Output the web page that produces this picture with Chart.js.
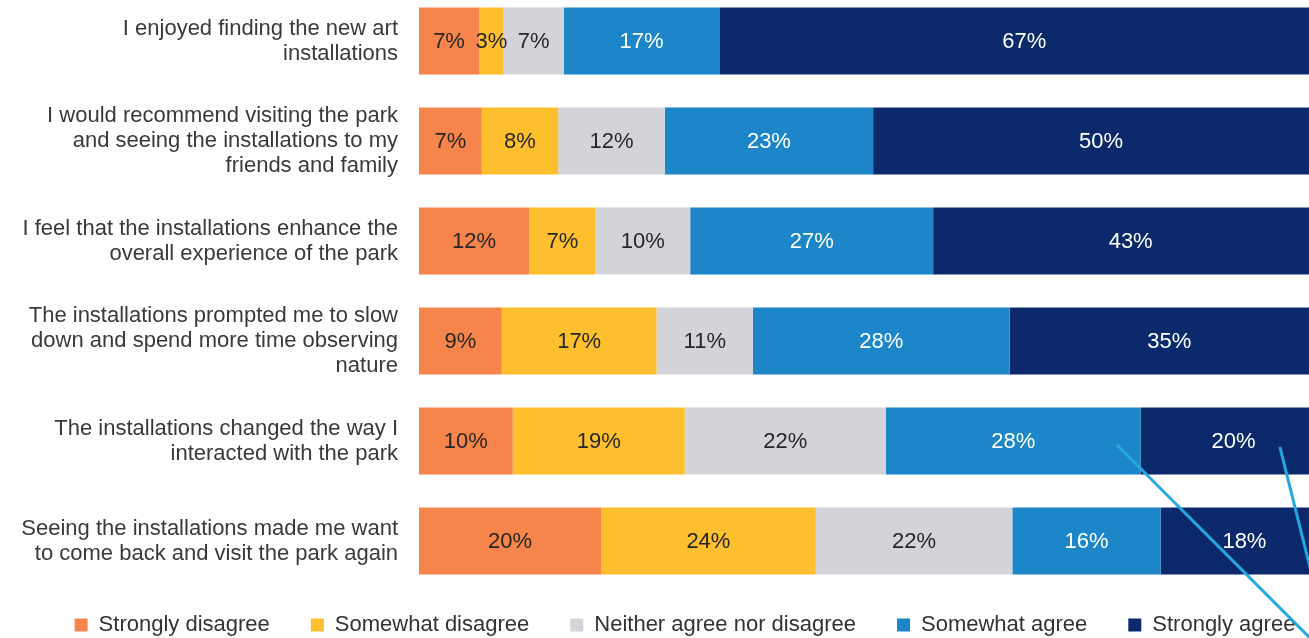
<!DOCTYPE html>
<html>
<head>
<meta charset="utf-8">
<script src="https://cdn.jsdelivr.net/npm/chart.js@4.4.1/dist/chart.umd.min.js"></script>
<style>
  html, body { margin: 0; padding: 0; background: #fff; overflow: hidden; }
  #wrap { position: absolute; left: 0; top: 0; width: 1370px; height: 646px; }
</style>
</head>
<body>
<div id="wrap"><canvas id="chart_parkSurvey"></canvas></div>
<script>
// statements (y categories), one array of lines per bar
var statements = [
    ['I enjoyed finding the new art', 'installations'],
    ['I would recommend visiting the park', 'and seeing the installations to my', 'friends and family'],
    ['I feel that the installations enhance the', 'overall experience of the park'],
    ['The installations prompted me to slow', 'down and spend more time observing', 'nature'],
    ['The installations changed the way I', 'interacted with the park'],
    ['Seeing the installations made me want', 'to come back and visit the park again']
];

var seriesNames = ['Strongly disagree', 'Somewhat disagree', 'Neither agree nor disagree', 'Somewhat agree', 'Strongly agree'];
var seriesColors = ['#F5854A', '#FDBF2D', '#D3D4D9', '#1C86C8', '#0C2A6B'];
var labelColors = ['#262626', '#262626', '#262626', '#ffffff', '#ffffff'];

// percent of respondents
var stronglyDisagree = [6.6, 6.9, 12.1, 9.1, 10.3, 20.0];
var somewhatDisagree = [2.7, 8.4, 7.3, 17.0, 18.9, 23.6];
var neitherAgree     = [6.6, 11.7, 10.4, 10.6, 22.1, 21.6];
var somewhatAgree    = [17.1, 22.9, 26.7, 28.2, 28.0, 16.3];
var stronglyAgree    = [67.0, 50.1, 43.4, 35.1, 20.4, 18.4];

var seriesValues = [stronglyDisagree, somewhatDisagree, neitherAgree, somewhatAgree, stronglyAgree];

Chart.defaults.font.family = '"Liberation Sans", Arial, sans-serif';

var segmentLabels = {
    id: 'segmentLabels',
    afterDatasetsDraw: function(chart) {
        var ctx = chart.ctx;
        ctx.save();
        ctx.font = '22px "Liberation Sans", Arial, sans-serif';
        ctx.textAlign = 'center';
        ctx.textBaseline = 'middle';
        chart.data.datasets.forEach(function(ds, i) {
            chart.getDatasetMeta(i).data.forEach(function(bar, j) {
                ctx.fillStyle = labelColors[i];
                ctx.fillText(Math.round(ds.data[j]) + '%', (bar.x + bar.base) / 2, bar.y + 1);
            });
        });
        ctx.restore();
    }
};

// the two cyan pointer lines running off the bottom right
var callouts = {
    id: 'callouts',
    afterDraw: function(chart, args, opts) {
        var xs = chart.scales.x, ys = chart.scales.y, ctx = chart.ctx;
        ctx.save();
        ctx.strokeStyle = opts.color;
        ctx.lineWidth = opts.width;
        opts.lines.forEach(function(l) {
            var x0 = xs.getPixelForValue(l.value);
            var y0 = ys.getPixelForValue(l.row) + l.drop;
            ctx.beginPath();
            ctx.moveTo(x0, y0);
            ctx.lineTo(x0 + l.dx * 400, y0 + l.dy * 400);
            ctx.stroke();
        });
        ctx.restore();
    }
};

var chart_parkSurvey = new Chart(document.getElementById('chart_parkSurvey'), {
    type: 'bar',
    data: {
        labels: statements,
        datasets: seriesNames.map(function(name, i) {
            return {
                label: name,
                data: seriesValues[i],
                backgroundColor: seriesColors[i],
                borderWidth: 0,
                categoryPercentage: 1,
                barPercentage: 0.67,
                clip: false
            };
        })
    },
    options: {
        indexAxis: 'y',
        animation: false,
        responsive: true,
        maintainAspectRatio: false,
        layout: {
            padding: { left: 0, right: 0, top: 41, bottom: 0 }
        },
        plugins: {
            title: { display: false },
            tooltip: { enabled: false },
            legend: {
                position: 'bottom',
                labels: {
                    boxWidth: 13,
                    boxHeight: 13,
                    padding: 41,
                    color: '#333333',
                    font: { size: 22 }
                }
            },
            callouts: {
                color: '#25A8E0',
                width: 3,
                lines: [
                    { row: 4, value: 76.7, drop: 4, dx: 1, dy: 1 },
                    { row: 4, value: 94.6, drop: 6, dx: 0.25, dy: 1 }
                ]
            }
        },
        scales: {
            x: {
                stacked: true,
                min: 0,
                // the plot runs past the right edge of the picture; 100% falls just outside it
                max: 104.5,
                grid: { display: false, drawTicks: false },
                border: { display: false },
                ticks: { display: false },
                afterFit: function(scale) { scale.height = 32; }
            },
            y: {
                stacked: true,
                offset: false,
                grid: { display: false, drawTicks: false },
                border: { display: false },
                ticks: {
                    autoSkip: false,
                    padding: 21,
                    color: '#3a3a3a',
                    font: { size: 22, lineHeight: 1.14 }
                },
                afterFit: function(scale) {
                    scale.width = 419;
                    scale.paddingTop = 0;
                    scale.paddingBottom = 0;
                }
            }
        }
    },
    plugins: [segmentLabels, callouts]
});
</script>
</body>
</html>
